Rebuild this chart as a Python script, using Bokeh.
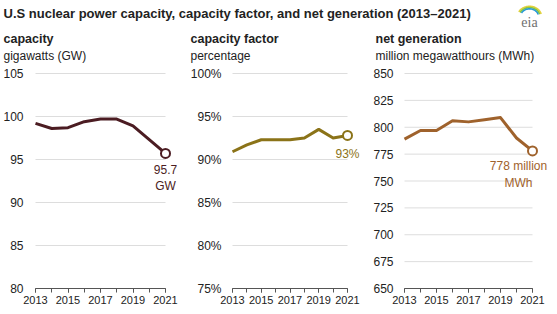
import numpy as np
from bokeh.plotting import figure
from bokeh.models import Range1d, Label, FixedTicker, CustomJSTickFormatter
from bokeh.layouts import column, row
from bokeh.embed import file_html
from bokeh.resources import INLINE

# ---------------- data ----------------
years = [2013, 2014, 2015, 2016, 2017, 2018, 2019, 2020, 2021]
capacity_gw = [99.2, 98.6, 98.7, 99.4, 99.7, 99.7, 98.9, 97.3, 95.7]
capacity_factor_pct = [90.9, 91.7, 92.3, 92.3, 92.3, 92.5, 93.5, 92.5, 92.8]
net_generation_mwh = [789, 797, 797, 806, 805, 807, 809, 790, 778]

year_labels = [2013, 2015, 2017, 2019, 2021]
cap_ticks = [80, 85, 90, 95, 100, 105]
cf_ticks = [75, 80, 85, 90, 95, 100]
gen_ticks = [650, 675, 700, 725, 750, 775, 800, 825, 850]

title_text = "U.S nuclear power capacity, capacity factor, and net generation (2013\u20132021)"
panel_titles = ["capacity", "capacity factor", "net generation"]
panel_units = ["gigawatts (GW)", "percentage", "million megawatthours (MWh)"]
end_labels = [["95.7", "GW"], ["93%"], ["778 million", "MWh"]]

# ---------------- style ----------------
FONT = "Liberation Sans Narrow, Arial Narrow, Liberation Sans, Arial, sans-serif"
COLORS = ["#4b1c22", "#8b7318", "#9f622c"]
GRID = "#dddddd"
TEXT = "#222222"

W_TOTAL = 557
TITLE_H = 64
PANEL_H = 314 - TITLE_H
HEADER_X = [3, 190, 375]

# ---------------- title / header strip (pixel coordinates, y down) ----------------
tf = figure(width=W_TOTAL, height=TITLE_H, output_backend="svg", toolbar_location=None,
            x_range=Range1d(0, W_TOTAL), y_range=Range1d(TITLE_H, 0),
            min_border=0, min_border_left=0, min_border_right=0, min_border_top=0, min_border_bottom=0)
tf.axis.visible = False
tf.grid.visible = False
tf.outline_line_color = None
tf.add_layout(Label(x=3, y=13, text=title_text, text_font=FONT, text_font_size="13px",
                    text_font_style="bold", text_color=TEXT, text_baseline="alphabetic"))
for hx, t, u in zip(HEADER_X, panel_titles, panel_units):
    tf.add_layout(Label(x=hx, y=38, text=t, text_font=FONT, text_font_size="12.5px",
                        text_font_style="bold", text_color=TEXT, text_baseline="alphabetic"))
    tf.add_layout(Label(x=hx, y=55, text=u, text_font=FONT, text_font_size="12px",
                        text_color=TEXT, text_baseline="alphabetic"))
# eia logo
tf.add_layout(Label(x=529, y=22, text="eia", text_font="Liberation Serif, serif", text_font_size="14px",
                    text_color="#6f6f6f", text_align="center", text_baseline="alphabetic"))
for r, c in zip([12.0, 10.5, 9.0], ["#e6d23c", "#8cc63f", "#2a9bd6"]):
    th = np.linspace(np.pi * 0.85, np.pi * 0.08, 30)
    tf.line(529 + r * np.cos(th), 16 - r * np.sin(th) * 0.85, line_color=c, line_width=1.6)

# ---------------- panels ----------------
# (fig width, frame-left px, frame-right border px, px per year, ticks, data, label fmt,
#  y-label standoff, end-label x offset, end-label y offsets)
specs = [
    (180, 31, 2, 16.25, cap_ticks, capacity_gw, "", 8, 0, [-16, -33]),
    (180, 48, 0, 14.375, cf_ticks, capacity_factor_pct, "%", 7, 0, [-19]),
    (197, 40, 5, 16.0, gen_ticks, net_generation_mwh, "", 7, -14, [-15, -32]),
]

FRAME_TOP = 5       # px from top of panel figure
FRAME_BOTTOM = 26   # px from bottom of panel figure
TOP_GAP = 4         # px between frame top and top gridline

panels = []
for i, (w, left, rb, ppy, ticks, vals, suffix, standoff, xoff, yoffs) in enumerate(specs):
    frame_h = PANEL_H - FRAME_TOP - FRAME_BOTTOM
    lo, hi = ticks[0], ticks[-1]
    ppu = (frame_h - TOP_GAP) / (hi - lo)
    x0 = years[0] - 4 / ppy
    frame_w = w - left - rb
    x1 = x0 + frame_w / ppy
    p = figure(width=w, height=PANEL_H, output_backend="svg", toolbar_location=None,
               x_range=Range1d(x0, x1), y_range=Range1d(lo, hi + TOP_GAP / ppu),
               min_border_left=left, min_border_right=rb,
               min_border_top=FRAME_TOP, min_border_bottom=FRAME_BOTTOM)
    p.outline_line_color = None
    p.grid.visible = False

    # grid lines from tick values
    gt = ticks[1:]
    p.segment(x0=[years[0]] * len(gt), x1=[years[-1]] * len(gt),
              y0=gt, y1=gt, line_color=GRID, line_width=1)

    # x axis
    xa = p.xaxis[0]
    xa.ticker = FixedTicker(ticks=year_labels, minor_ticks=years)
    xa.bounds = (years[0], years[-1])
    xa.axis_line_color = "#555555"
    xa.major_tick_line_color = "#555555"
    xa.minor_tick_line_color = "#555555"
    xa.major_tick_out = 4
    xa.major_tick_in = 0
    xa.minor_tick_out = 4
    xa.minor_tick_in = 0
    xa.major_label_standoff = 3
    xa.major_label_text_font = FONT
    xa.major_label_text_font_size = "11px"
    xa.major_label_text_color = TEXT

    # y axis
    ya = p.yaxis[0]
    ya.ticker = FixedTicker(ticks=ticks)
    ya.axis_line_color = None
    ya.major_tick_line_color = None
    ya.minor_tick_line_color = None
    ya.major_tick_out = 0
    ya.major_label_standoff = standoff
    ya.major_label_text_font = FONT
    ya.major_label_text_font_size = "12px"
    ya.major_label_text_color = TEXT
    if suffix:
        ya.formatter = CustomJSTickFormatter(code="return tick + '%';")

    c = COLORS[i]
    p.line(years, vals, line_color=c, line_width=3, line_join="round")
    p.scatter([years[-1]], [vals[-1]], size=9, fill_color="white", line_color=c, line_width=2)
    for t, yo in zip(end_labels[i], yoffs):
        p.add_layout(Label(x=years[-1], y=vals[-1], x_offset=xoff, y_offset=yo, text=t,
                           text_font=FONT, text_font_size="12px", text_color=c,
                           text_align="center", text_baseline="middle"))
    panels.append(p)

layout = column(tf, row(*panels, spacing=0), spacing=0)
open("out.html", "w").write(file_html(layout, INLINE))
